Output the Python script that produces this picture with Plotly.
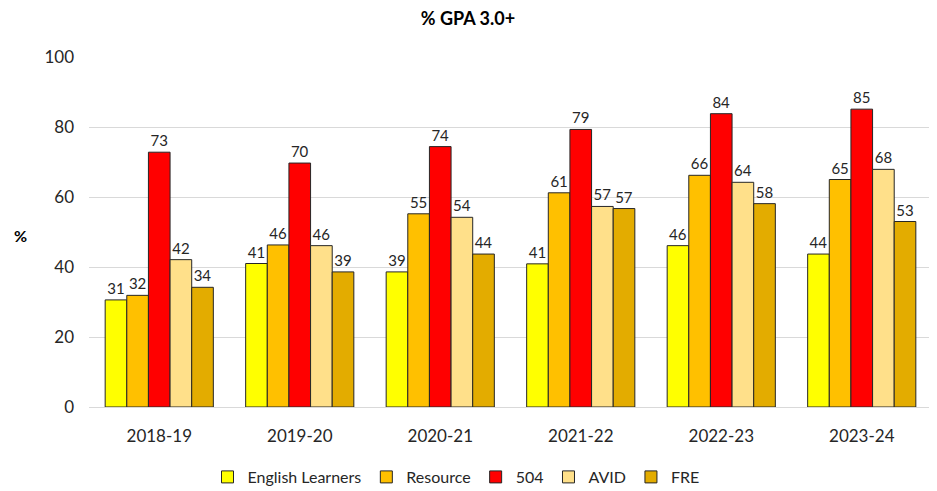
import plotly.graph_objects as go

years = ["2018-19", "2019-20", "2020-21", "2021-22", "2022-23", "2023-24"]
series_names = ["English Learners", "Resource", "504", "AVID", "FRE"]
english_learners = [30.6, 41.0, 38.6, 40.9, 46.1, 43.7]
resource = [31.9, 46.3, 55.2, 61.2, 66.2, 65.0]
s504 = [72.8, 69.7, 74.4, 79.3, 83.8, 85.1]
avid = [42.1, 46.1, 54.2, 57.3, 64.2, 67.9]
fre = [34.2, 38.6, 43.7, 56.7, 58.1, 53.0]
colors = ["#FFFF00", "#FFC000", "#FF0000", "#FFE08A", "#E3AC00"]

FONT = "Lato"
# page body has an 8px default margin; figure sized to fit the window
OFF = 8
W, H = 937 - OFF, 491 - OFF

fig = go.Figure()
for name, vals, col in zip(series_names, [english_learners, resource, s504, avid, fre], colors):
    fig.add_trace(go.Bar(
        name=name, x=years, y=vals,
        marker=dict(color=col, line=dict(color="#262626", width=1)),
        text=[f"{v:.0f}" for v in vals], textposition="outside",
        textfont=dict(size=15, color="#262626", family=FONT),
        constraintext="none", cliponaxis=False,
    ))

fig.update_layout(
    width=W, height=H,
    barmode="group", bargap=0.23, bargroupgap=0,
    plot_bgcolor="white", paper_bgcolor="white",
    margin=dict(l=89 - OFF, r=5, t=57 - OFF, b=84, autoexpand=False),
    font=dict(family=FONT, size=16, color="#262626"),
    title=dict(text="<b>% GPA 3.0+</b>", x=(468 - OFF) / W, xanchor="center", xref="container",
               y=1 - (19 - OFF) / H, yanchor="middle", yref="container",
               font=dict(size=18, family=FONT, color="#000000")),
    legend=dict(orientation="h", xref="container", yref="container",
                x=(456 - OFF) / W, xanchor="center", y=1 - (477 - OFF) / H, yanchor="middle",
                itemwidth=30, tracegroupgap=0,
                font=dict(size=16, family=FONT, color="#262626"), traceorder="normal"),
    showlegend=True,
)
fig.update_yaxes(range=[0, 100], dtick=20, gridcolor="#D9D9D9", gridwidth=1,
                 zeroline=False, showline=False, ticks="", ticklen=0, automargin=False,
                 ticklabelstandoff=14,
                 tickfont=dict(size=17, color="#262626"))
fig.update_xaxes(showline=True, linecolor="#D9D9D9", linewidth=1, ticks="", automargin=False,
                 ticklabelstandoff=14,
                 tickfont=dict(size=17, color="#262626"))
fig.add_annotation(text="<b>%</b>", xref="paper", yref="paper", x=(20 - 89) / 843, y=(407 - 235) / 350,
                   xanchor="center", yanchor="middle", showarrow=False,
                   font=dict(size=16, family=FONT, color="#000000"))

fig.write_html("out.html")
